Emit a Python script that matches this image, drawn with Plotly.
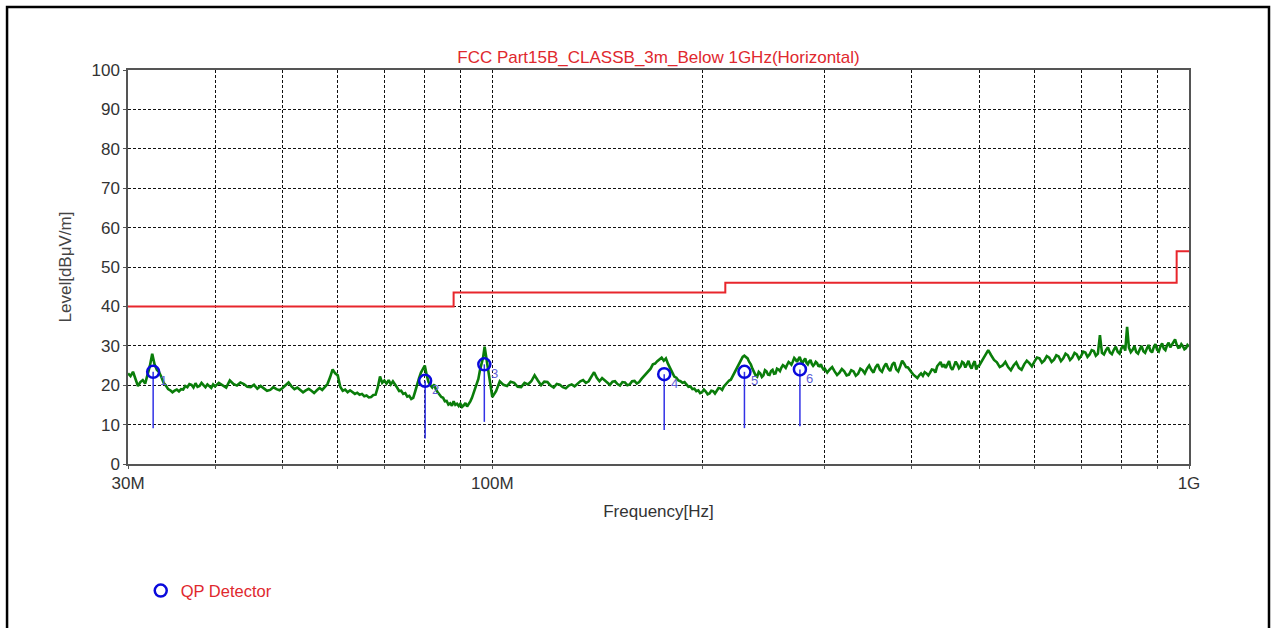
import math
import plotly.graph_objects as go

# ---------------- data ----------------
trace_freq_mhz = [
    30, 30.25, 30.5, 30.75, 31, 31.25, 31.5, 31.75, 32, 32.25, 32.5, 32.75, 33, 33.25, 33.5, 33.75,
    34, 34.25, 34.5, 34.75, 35, 35.25, 35.5, 35.75, 36, 36.25, 36.5, 36.75, 37, 37.25, 37.5, 37.75,
    38, 38.25, 38.5, 38.75, 39, 39.25, 39.5, 39.75,
    40, 40.5, 41, 41.5, 42, 42.5, 43, 43.5, 44, 44.5, 45, 45.5, 46, 46.5, 47, 47.5, 48, 48.5, 49, 49.5,
    50, 50.5, 51, 51.5, 52, 52.5, 53, 53.5, 54, 54.5, 55, 55.5, 56, 56.5, 57, 57.5, 58, 58.5, 59, 59.5,
    60, 60.5, 61, 61.5, 62, 62.5, 63, 63.5, 64, 64.5, 65, 65.5, 66, 66.5, 67, 67.5, 68, 68.5, 69, 69.5,
    70, 70.5, 71, 71.5, 72, 72.5, 73, 73.5, 74, 74.5, 75, 75.5, 76, 76.5, 77, 77.5, 78, 78.5, 79, 79.5,
    80, 80.5, 81, 81.5, 82, 82.5, 83, 83.5, 84, 84.5, 85, 85.5, 86, 86.5, 87, 87.5, 88, 88.5, 89, 89.5,
    90, 90.5, 91, 91.5, 92, 92.5, 93, 93.5, 94, 94.5, 95, 95.5, 96, 96.5, 97, 97.5, 98, 98.5, 99, 99.5,
    100, 101.25, 102.5, 103.75, 105, 106.25, 107.5, 108.75, 110, 111.25, 112.5, 113.75,
    115, 116.25, 117.5, 118.75, 120, 121.25, 122.5, 123.75, 125, 126.25, 127.5, 128.75,
    130, 131.25, 132.5, 133.75, 135, 136.25, 137.5, 138.75, 140, 141.25, 142.5, 143.75,
    145, 146.25, 147.5, 148.75, 150, 151.25, 152.5, 153.75, 155, 156.25, 157.5, 158.75,
    160, 161.25, 162.5, 163.75, 165, 166.25, 167.5, 168.75, 170, 171.25, 172.5, 173.75,
    175, 176.25, 177.5, 178.75, 180, 181.25, 182.5, 183.75, 185, 186.25, 187.5, 188.75,
    190, 191.25, 192.5, 193.75, 195, 196.25, 197.5, 198.75, 200, 201.25, 202.5, 203.75,
    205, 206.25, 207.5, 208.75, 210, 211.25, 212.5, 213.75, 215, 216.25, 217.5, 218.75,
    220, 221.25, 222.5, 223.75, 225, 226.25, 227.5, 228.75, 230, 231.25, 232.5, 233.75,
    235, 236.25, 237.5, 238.75, 240, 241.25, 242.5, 243.75, 245, 246.25, 247.5, 248.75,
    250, 251.25, 252.5, 253.75, 255, 256.25, 257.5, 258.75, 260, 261.25, 262.5, 263.75,
    265, 266.25, 267.5, 268.75, 270, 271.25, 272.5, 273.75, 275, 276.25, 277.5, 278.75,
    280, 281.25, 282.5, 283.75, 285, 286.25, 287.5, 288.75, 290, 291.25, 292.5, 293.75,
    295, 296.25, 297.5, 298.75,
    300, 302.5, 305, 307.5, 310, 312.5, 315, 317.5, 320, 322.5, 325, 327.5, 330, 332.5, 335, 337.5,
    340, 342.5, 345, 347.5, 350, 352.5, 355, 357.5, 360, 362.5, 365, 367.5, 370, 372.5, 375, 377.5,
    380, 382.5, 385, 387.5, 390, 392.5, 395, 397.5, 400, 402.5, 405, 407.5, 410, 412.5, 415, 417.5,
    420, 422.5, 425, 427.5, 430, 432.5, 435, 437.5, 440, 442.5, 445, 447.5, 450, 452.5, 455, 457.5,
    460, 462.5, 465, 467.5, 470, 472.5, 475, 477.5, 480, 482.5, 485, 487.5, 490, 492.5, 495, 497.5,
    500, 505, 510, 515, 520, 525, 530, 535, 540, 545, 550, 555, 560, 565, 570, 575, 580, 585, 590, 595,
    600, 605, 610, 615, 620, 625, 630, 635, 640, 645, 650, 655, 660, 665, 670, 675, 680, 685, 690, 695,
    700, 705, 710, 715, 720, 725, 730, 735, 740, 745, 750, 755, 760, 765, 770, 775, 780, 785, 790, 795,
    800, 805, 810, 815, 820, 825, 830, 835, 840, 845, 850, 855, 860, 865, 870, 875, 880, 885, 890, 895,
    900, 905, 910, 915, 920, 925, 930, 935, 940, 945, 950, 955, 960, 965, 970, 975, 980, 985, 990, 995,
    1000,
]
trace_level = [
    23.0, 22.3, 23.4, 21.5, 19.8, 20.8, 21.3, 20.4, 22.4, 24.9, 28.0, 25.3, 23.9, 23.3, 22.1, 20.6,
    19.9, 19.0, 18.7, 18.2, 18.6, 18.9, 18.4, 19.0, 18.9, 19.8, 19.5, 20.3, 20.1, 19.4, 20.5, 19.6,
    19.8, 20.6, 20.0, 19.5, 20.2, 19.6, 19.3, 20.2,
    19.7, 20.6, 20.1, 19.4, 21.2, 20.3, 19.9, 20.7, 20.3, 19.6, 19.5, 20.1, 19.1, 19.8, 19.2, 18.6, 18.8, 19.5, 19.0, 18.7,
    19.3, 19.9, 20.7, 19.7, 19.0, 19.4, 18.7, 18.2, 18.7, 19.1, 18.6, 18.0, 18.7, 19.3, 18.8, 19.5, 20.3, 22.0, 24.0, 23.0,
    22.5, 19.6, 18.6, 18.9, 18.2, 18.7, 18.3, 17.8, 18.1, 17.6, 17.8, 17.2, 17.4, 16.9, 17.0, 17.5, 17.6, 19.5, 22.2, 20.6,
    21.2, 20.4, 21.3, 20.2, 21.0, 20.0, 19.4, 18.5, 18.6, 17.8, 18.0, 17.1, 17.3, 16.5, 16.8, 18.4, 20.5, 21.8, 23.2, 24.0,
    25.0, 22.6, 20.8, 20.0, 19.4, 20.2, 18.9, 18.2, 17.7, 17.0, 16.8, 15.9, 16.0, 15.1, 15.4, 14.8, 15.9, 15.0, 15.3, 14.7,
    15.3, 14.5, 14.9, 15.5, 14.6, 15.2, 15.9, 16.8, 18.0, 19.2, 20.6, 21.6, 23.8, 25.2, 27.0, 29.8, 27.0, 24.5, 22.0, 19.0,
    17.0, 18.5, 21.0, 20.1, 19.8, 20.9, 20.6, 19.6, 19.5, 20.6, 20.2, 21.0,
    22.5, 21.2, 20.0, 20.9, 20.8, 19.9, 19.4, 20.3, 20.1, 19.5, 19.2, 19.9,
    20.2, 19.7, 20.4, 21.0, 21.3, 20.6, 21.0, 22.0, 23.3, 21.9, 21.0, 21.8,
    21.2, 20.5, 20.1, 20.9, 21.0, 20.3, 19.9, 20.8, 20.7, 20.0, 20.2, 21.0,
    21.1, 20.4, 20.8, 21.6, 22.3, 22.9, 23.7, 24.2, 25.3, 25.5, 26.1, 26.6,
    27.0, 26.2, 26.8, 25.4, 24.3, 23.0, 22.2, 21.9, 21.2, 21.0, 20.6, 20.8,
    20.1, 19.6, 19.7, 19.0, 19.1, 18.5, 18.7, 18.0, 18.2, 18.9, 18.4, 17.7,
    17.9, 18.6, 18.5, 17.9, 18.6, 19.3, 19.2, 18.8, 19.7, 20.2, 20.5, 21.2,
    21.4, 22.3, 23.0, 24.0, 24.8, 25.8, 26.5, 27.2, 27.5, 27.0, 26.8, 25.9,
    25.3, 24.2, 23.3, 22.5, 22.2, 23.4, 23.0, 22.1, 22.5, 23.8, 23.5, 22.7,
    22.6, 23.6, 23.9, 22.9, 23.0, 24.2, 24.0, 23.6, 24.5, 25.1, 24.8, 24.4,
    25.2, 25.9, 25.6, 25.2, 26.0, 26.9, 26.5, 25.9, 26.6, 27.2, 26.1, 25.6,
    26.3, 26.8, 25.7, 25.3, 26.0, 26.4, 25.4, 24.9, 25.3, 25.9, 25.6, 24.9,
    24.8, 25.3, 24.5, 24.0,
    24.2, 23.2, 24.0, 24.6, 23.5, 22.6, 23.2, 24.1, 23.5, 22.5, 22.7, 23.8, 23.5, 22.4, 22.9, 24.2,
    23.8, 23.0, 24.2, 25.0, 23.9, 23.2, 24.6, 25.3, 23.9, 23.4, 24.7, 25.5, 24.3, 23.6, 25.2, 25.8,
    24.0, 23.5, 24.8, 26.2, 25.5, 24.6, 24.5, 23.7, 23.2, 22.6, 22.3, 21.8, 22.5, 23.0, 22.4, 23.3,
    23.0, 22.5, 23.2, 24.0, 23.9, 23.2, 24.8, 25.5, 25.9, 24.6, 25.3, 24.4, 25.1, 26.1, 24.5, 23.9,
    24.9, 26.0, 25.3, 24.3, 24.8, 25.9, 25.6, 24.5, 25.3, 26.2, 24.9, 24.2, 25.4, 26.1, 24.0, 24.8,
    25.0, 26.3, 27.5, 28.9, 27.6, 26.4, 25.8, 24.6, 25.0, 25.9, 24.6, 23.8, 25.0, 25.8, 24.4, 23.9, 25.3, 26.2, 25.6, 24.8,
    26.0, 27.0, 26.8, 25.7, 26.3, 27.4, 27.0, 25.9, 26.5, 27.6, 27.3, 26.1, 26.8, 28.0, 27.6, 26.4, 27.0, 28.2, 27.8, 26.7,
    27.4, 28.5, 28.3, 27.2, 27.8, 28.9, 28.7, 27.5, 28.0, 32.7, 28.2, 27.8, 28.9, 29.6, 28.3, 27.9, 29.0, 29.8, 28.5, 28.0,
    29.4, 30.1, 28.8, 34.8, 29.5, 28.4, 29.0, 29.9, 28.4, 28.0, 29.1, 30.0, 28.6, 28.2, 29.3, 30.2, 28.8, 28.3, 29.6, 30.4,
    29.0, 28.6, 29.8, 30.6, 29.3, 28.9, 30.1, 30.8, 29.6, 30.3, 31.2, 31.6, 30.3, 29.5, 29.6, 30.4, 29.9, 29.1, 29.4, 30.2,
    29.8,
]

limit_freq_mhz = [30, 88, 216, 960, 1000]
limit_level = [40, 43.5, 46, 54, 54]

qp_freq_mhz = [32.6, 80.1, 97.4, 176.5, 230.1, 276.4]
qp_level = [23.4, 21.1, 25.3, 22.8, 23.4, 24.0]
qp_stem_low = [9.1, 6.5, 10.7, 8.6, 9.1, 9.6]
qp_labels = ["1", "2", "3", "4", "5", "6"]

x_tick_mhz = [30, 40, 50, 60, 70, 80, 90, 100, 200, 300, 400, 500, 600, 700, 800, 900, 1000]
x_tick_text = ["30M", "", "", "", "", "", "", "100M", "", "", "", "", "", "", "", "", "1G"]
y_ticks = [0, 10, 20, 30, 40, 50, 60, 70, 80, 90, 100]

title_text = "FCC Part15B_CLASSB_3m_Below 1GHz(Horizontal)"
x_title = "Frequency[Hz]"
y_title = "Level[dBμV/m]"
legend_name = "QP Detector"

MHZ = 1e6
FONT = "Liberation Sans, Arial, sans-serif"

# ---------------- figure ----------------
fig = go.Figure()

fig.add_trace(go.Scatter(
    x=[f * MHZ for f in trace_freq_mhz], y=trace_level, mode="lines",
    line=dict(color="rgb(10,125,10)", width=2.6), showlegend=False, hoverinfo="skip"))

fig.add_trace(go.Scatter(
    x=[f * MHZ for f in limit_freq_mhz], y=limit_level, mode="lines",
    line=dict(color="#e8262c", width=2, shape="hv"), showlegend=False, hoverinfo="skip"))

stem_x, stem_y = [], []
for f, lo, hi in zip(qp_freq_mhz, qp_stem_low, qp_level):
    stem_x += [f * MHZ, f * MHZ, None]
    stem_y += [lo, hi, None]
fig.add_trace(go.Scatter(
    x=stem_x, y=stem_y, mode="lines",
    line=dict(color="rgb(50,50,230)", width=1.5), showlegend=False, hoverinfo="skip"))

fig.add_trace(go.Scatter(
    x=[f * MHZ for f in qp_freq_mhz], y=qp_level, mode="markers", name=legend_name,
    marker=dict(symbol="circle-open", size=12, color="rgb(10,10,220)", line=dict(width=2.5, color="rgb(10,10,220)")),
    showlegend=True))

# marker number labels (log axis: annotation x is given in log10 units)
annotations = []
for f, lv, lab in zip(qp_freq_mhz, qp_level, qp_labels):
    annotations.append(dict(
        x=math.log10(f * MHZ), y=lv, xref="x", yref="y", text=lab, showarrow=False,
        xanchor="center", yanchor="middle", xshift=10, yshift=-9,
        font=dict(family=FONT, size=13, color="rgb(95,95,215)")))

grid_common = dict(
    showgrid=True, gridcolor="#111", gridwidth=1, griddash="3px,2px",
    showline=True, linecolor="#555", linewidth=1.5, mirror=True,
    zeroline=False, ticks="outside", ticklen=3, tickcolor="#555",
    tickfont=dict(family=FONT, size=17, color="#333"),
)

fig.update_xaxes(
    type="log", range=[7.47712, 9.0],
    tickvals=[f * MHZ for f in x_tick_mhz], ticktext=x_tick_text,
    title=dict(text=x_title, font=dict(family=FONT, size=17, color="#333"), standoff=13),
    **grid_common)
fig.update_yaxes(
    range=[0, 100], tickvals=y_ticks,
    title=dict(text=y_title, font=dict(family=FONT, size=17, color="#444"), standoff=16),
    **grid_common)

fig.update_layout(
    width=1272, height=628,
    margin=dict(l=128, r=83, t=70, b=164),
    paper_bgcolor="white", plot_bgcolor="white",
    title=dict(text=title_text, font=dict(family=FONT, size=17, color="#e0282e"),
               x=0.5, xref="paper", y=1 - 57 / 628, yref="container", yanchor="middle"),
    legend=dict(x=0.012, y=-0.322, xanchor="left", yanchor="middle",
                font=dict(family=FONT, size=16.5, color="#e0282e"), bgcolor="rgba(0,0,0,0)"),
    annotations=annotations,
    shapes=[dict(type="rect", xref="paper", yref="paper",
                 x0=-0.1140, x1=1.0754, y0=-0.50, y1=1.1599,
                 line=dict(color="black", width=2.5), fillcolor="rgba(0,0,0,0)", layer="above")],
    showlegend=True,
)

fig.write_html("out.html", config={"displayModeBar": False},
               post_script="document.body.style.margin='0';document.body.style.overflow='hidden';")
